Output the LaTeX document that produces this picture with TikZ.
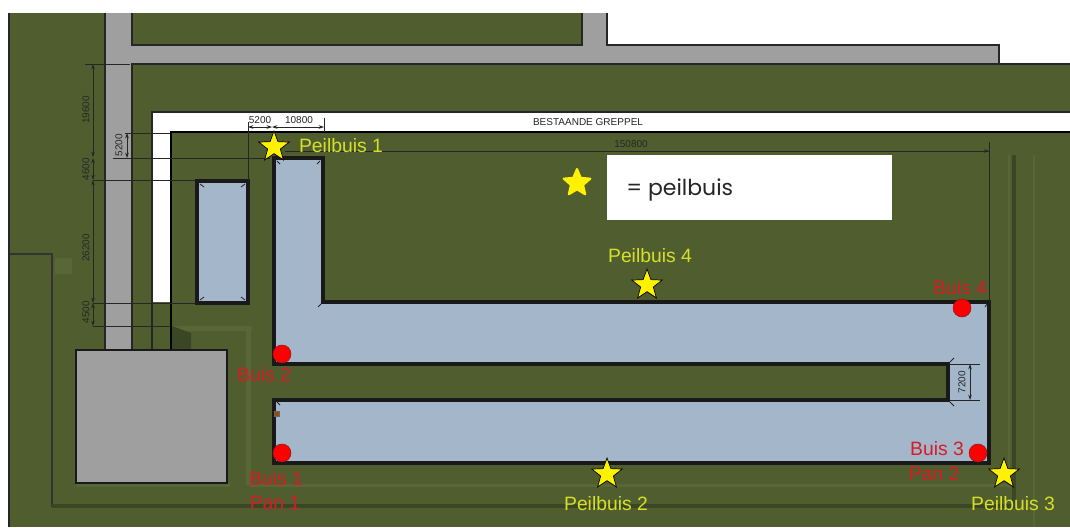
\documentclass[tikz,border=0pt]{standalone}
\usepackage{fontspec}
\setmainfont{Liberation Sans}
\newfontfamily\legendfont{Poppins}
\definecolor{fieldgreen}{RGB}{80,94,47}
\definecolor{ridgegreen}{RGB}{88,103,55}
\definecolor{darkgreen}{RGB}{58,70,36}
\definecolor{roadgray}{RGB}{160,159,160}
\definecolor{pondblue}{RGB}{163,182,202}
\definecolor{peilyellow}{RGB}{214,224,40}
\definecolor{buisred}{RGB}{214,28,36}
\usetikzlibrary{shapes.geometric}
\usetikzlibrary{arrows.meta}
\tikzset{
  x=0.02cm, y=-0.02cm,
  outline/.style={draw=black!85, line width=0.6pt},
  pondwall/.style={draw=black!90, line width=2pt, fill=pondblue, line join=miter},
  dimline/.style={draw=black!85, line width=0.4pt},
  dimarrow/.style={dimline, {Stealth[length=3pt,width=2pt]}-{Stealth[length=3pt,width=2pt]}},
  dimlabel/.style={font=\fontsize{5.7}{6}\selectfont, text=black!85, inner sep=0pt},
  peilstar/.style={star, star points=5, star point ratio=2.4, minimum size=32*0.02cm, inner sep=0pt, fill=yellow, draw=black, line width=0.4pt},
  peillabel/.style={font=\fontsize{11}{13}\selectfont, text=peilyellow, inner sep=0pt},
  buispoint/.style={circle, minimum size=18*0.02cm, inner sep=0pt, fill=red, draw=buisred!70!black, line width=0.3pt},
  buislabel/.style={font=\fontsize{11}{13}\selectfont, text=buisred, inner sep=0pt}
}
\begin{document}
\begin{tikzpicture}
  \useasboundingbox (0,0) rectangle (1070,527);
  \fill [white] (0,0) rectangle (1070,527);

  % ground
  \fill [fieldgreen] (9,13) rectangle (1070,527);
  \fill [white] (607,13) rectangle (1070,45);
  \fill [white] (1000,45) rectangle (1070,63);
  \draw [outline] (9,527) -- (9,13);

  % roads
  \fill [roadgray] (105,13) rectangle (132,350);
  \fill [roadgray] (582,13) rectangle (607,63);
  \fill [roadgray] (105,45) rectangle (999,63);
  \draw [outline] (105,13) -- (105,350) (132,350) -- (132,64) -- (1070,64);
  \draw [outline] (132,13) -- (132,45) -- (582,45) -- (582,13);
  \draw [outline] (607,13) -- (607,45) -- (999,45) -- (999,63);

  % ditch
  \fill [white] (152,112) rectangle (1070,132);
  \fill [white] (152,112) rectangle (171,302);
  \draw [outline] (1070,112) -- (152,112) -- (152,350);
  \draw [draw=black, line width=1.1pt] (1070,132) -- (171,132) -- (171,350);

  % ridges around the ponds
  \fill [ridgegreen] (172,326) rectangle (252,331);
  \fill [ridgegreen] (246,326) rectangle (251,485);
  \fill [ridgegreen] (250,484) rectangle (1012,487);
  \fill [ridgegreen] (76,483) rectangle (230,487);
  \fill [ridgegreen] (55,258) rectangle (72,274);
  \fill [ridgegreen] (1033,155) rectangle (1035,527);
  \fill [darkgreen] (172,326) -- (191,333) -- (191,350) -- (172,350) -- cycle;
  \draw [draw=black!80, line width=0.7pt] (10,254) -- (52,254) -- (52,507);
  \draw [draw=darkgreen, line width=2pt] (52,506) -- (1014,506) -- (1014,155);
  \draw [draw=ridgegreen, line width=0.6pt] (1009,155) -- (1009,470);

  % ponds
  \path [pondwall] (197,181) rectangle (248,303);
  \path [pondwall] (274,158) -- (323,158) -- (323,302) -- (989,302) -- (989,463)
    -- (274,463) -- (274,400) -- (948,400) -- (948,364) -- (274,364) -- cycle;
  \foreach \xa/\ya/\xb/\yb in {200/184/204/187, 245/184/241/187, 200/300/204/297, 245/300/241/297,
    277/161/280/164, 320/161/317/164, 321/304/318/307, 950/362/954/358, 950/402/954/406, 277/402/280/405, 987/304/985/307} {
    \draw [draw=black!85, line width=0.5pt] (\xa,\ya) -- (\xb,\yb);
  }
  \fill [draw=black!60, fill=orange!60!black, line width=0.3pt] (274,411) rectangle (279,416);

  % gray square
  \fill [roadgray, draw=black!90, line width=0.7pt] (76,350) rectangle (227,483);

  % dimensions
  \foreach \ya/\xa/\xb in {64/85/130, 158/113/270, 180/93/195, 303/93/195, 326/93/170, 133/125/170} {
    \draw [dimline] (\xa,\ya) -- (\xb,\ya);
  }
  \foreach \ya/\yb in {64/157, 158/180, 180/303, 303/326} {
    \draw [dimarrow] (93,\ya) -- (93,\yb);
  }
  \draw [dimarrow] (127,133) -- (127,158);
  \draw [dimarrow] (248,127) -- (272,127);
  \draw [dimarrow] (272,127) -- (324,127);
  \draw [dimline] (248,122) -- (248,181) (324,118) -- (324,132);
  \draw [dimline] (285,151) -- (989,151) (989,142) -- (989,302);
  \draw [dimline, -{Stealth[length=3pt,width=2pt]}] (900,151) -- (989,151);
  \draw [dimarrow] (970,364) -- (970,400);
  \draw [dimline] (950,364) -- (980,364) (950,400) -- (980,400);

  \node [dimlabel, rotate=90] (dim19600) at (86,110) {19600};
  \node [dimlabel, rotate=90] (dim5200a) at (119,145) {5200};
  \node [dimlabel, rotate=90] (dim4600) at (86,169) {4600};
  \node [dimlabel, rotate=90] (dim26200) at (86,248) {26200};
  \node [dimlabel, rotate=90] (dim4500) at (86,312) {4500};
  \node [dimlabel] (dim5200b) at (260,120) {5200};
  \node [dimlabel] (dim10800) at (299,120) {10800};
  \node [dimlabel] (dim150800) at (631,144) {150800};
  \node [dimlabel, rotate=90] (dim7200) at (962,382) {7200};
  \node [dimlabel] (greppel) at (588,122) {BESTAANDE GREPPEL};

  % legend
  \node [fill=white, minimum width=285*0.02cm, minimum height=65*0.02cm, inner sep=0pt] (legend) at (749.5,187.5) {};
  \node [anchor=west, inner sep=0pt, font=\legendfont\fontsize{12.5}{14}\selectfont, text=black!85] (legendtext) at (626,190) {= peilbuis};
  \node [star, star points=5, star point ratio=2.2, minimum size=28*0.02cm, inner sep=0pt, fill=yellow, draw=yellow, line width=1.2pt, line join=round] (legendstar) at (577,183) {};

  % peilbuizen
  \node [peilstar] (star1) at (274,147) {};
  \node [peilstar] (star2) at (607,474) {};
  \node [peilstar] (star3) at (1004,474) {};
  \node [peilstar] (star4) at (647,285) {};
  \node [peillabel] (peil1) at (341,146) {Peilbuis 1};
  \node [peillabel] (peil2) at (606,504) {Peilbuis 2};
  \node [peillabel] (peil3) at (1013,504) {Peilbuis 3};
  \node [peillabel] (peil4) at (650,256) {Peilbuis 4};

  % buizen
  \node [buispoint] (buis1) at (282,453) {};
  \node [buispoint] (buis2) at (282,354) {};
  \node [buispoint] (buis3) at (978,453) {};
  \node [buispoint] (buis4) at (962,308) {};
  \node [buislabel] (buis1text) at (276,479) {Buis 1};
  \node [buislabel] (pan1text) at (275,503) {Pan 1};
  \node [buislabel] (buis2text) at (264,375) {Buis 2};
  \node [buislabel] (buis3text) at (937,449) {Buis 3};
  \node [buislabel] (pan2text) at (934,474) {Pan 2};
  \node [buislabel] (buis4text) at (960,288) {Buis 4};
\end{tikzpicture}
\end{document}
